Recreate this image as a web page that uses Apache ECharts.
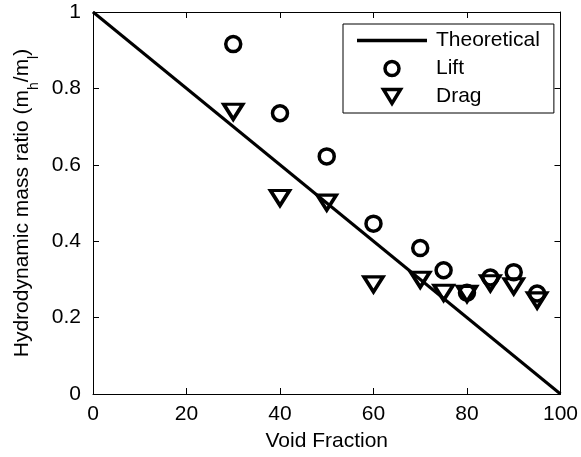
<!DOCTYPE html>
<html>
<head>
<meta charset="utf-8">
<script src="https://cdn.jsdelivr.net/npm/echarts@6/dist/echarts.min.js"></script>
<style>
html,body{margin:0;padding:0;background:#fff;}
#chart{width:581px;height:457px;}
</style>
</head>
<body>
<div id="chart"></div>
<script>
var voidFraction = [30, 40, 50, 60, 70, 75, 80, 85, 90, 95];
var liftRatio = [0.916, 0.735, 0.622, 0.446, 0.382, 0.324, 0.265, 0.305, 0.319, 0.263];
var dragRatio = [0.739, 0.513, 0.501, 0.287, 0.299, 0.265, 0.262, 0.290, 0.282, 0.245];
var theoreticalX = [0, 100];
var theoreticalY = [1, 0];

var FONT = 'Liberation Sans, Arial, sans-serif';
var FS = 21;
function pairs(xs, ys) { return xs.map(function (x, i) { return [x, ys[i]]; }); }

var chart = echarts.init(document.getElementById('chart'), null, {renderer: 'canvas'});
var axisCommon = {
  axisLine: {show: true, onZero: false, lineStyle: {color: '#000', width: 1}},
  axisTick: {show: true, inside: true, length: 6, lineStyle: {color: '#000', width: 1}},
  splitLine: {show: false}
};
var hollow = {color: 'rgba(0,0,0,0)', borderColor: '#000', borderWidth: 3.5, opacity: 1};
chart.setOption({
  animation: false,
  backgroundColor: '#fff',
  textStyle: {fontFamily: FONT},
  grid: {left: 93, right: 18, top: 12, bottom: 62.5},
  legend: {
    left: 343, top: 24,
    orient: 'vertical',
    backgroundColor: '#fff',
    borderColor: '#000', borderWidth: 1,
    padding: [6, 14, 6, 14],
    itemWidth: 70, itemHeight: 14, itemGap: 7,
    symbolKeepAspect: true,
    textStyle: {fontFamily: FONT, fontSize: FS, color: '#000', padding: [0, 0, 0, 4]},
    data: [
      {name: 'Theoretical', icon: 'path://M0,0L70,0L70,3.5L0,3.5Z',
       itemStyle: {color: '#000', borderWidth: 0}},
      {name: 'Lift', icon: 'circle', itemStyle: {color: 'rgba(0,0,0,0)', borderColor: '#000', borderWidth: 3.5}},
      {name: 'Drag', icon: 'path://M0,0L17,0L8.5,14Z', itemStyle: {color: 'rgba(0,0,0,0)', borderColor: '#000', borderWidth: 3.5}}
    ]
  },
  xAxis: [
    Object.assign({
      type: 'value', min: 0, max: 100, interval: 20, position: 'bottom',
      name: 'Void Fraction', nameLocation: 'middle', nameGap: 37,
      nameTextStyle: {fontFamily: FONT, fontSize: FS, color: '#000'},
      axisLabel: {fontFamily: FONT, fontSize: FS, color: '#000', margin: 10}
    }, axisCommon),
    Object.assign({
      type: 'value', min: 0, max: 100, interval: 20, position: 'top',
      axisLabel: {show: false}
    }, axisCommon)
  ],
  yAxis: [
    Object.assign({
      type: 'value', min: 0, max: 1, interval: 0.2, position: 'left',
      name: 'Hydrodynamic mass ratio (m{sub|h}/m{sub|l})',
      nameLocation: 'middle', nameGap: 58,
      nameTextStyle: {fontFamily: FONT, fontSize: FS, color: '#000',
        rich: {sub: {fontFamily: FONT, fontSize: 14, color: '#000', verticalAlign: 'bottom', padding: [0, 0, -8, 0]}}},
      axisLabel: {fontFamily: FONT, fontSize: FS, color: '#000', margin: 12}
    }, axisCommon),
    Object.assign({
      type: 'value', min: 0, max: 1, interval: 0.2, position: 'right',
      axisLabel: {show: false}
    }, axisCommon)
  ],
  series: [
    {
      name: 'Theoretical', type: 'line',
      data: pairs(theoreticalX, theoreticalY),
      symbol: 'none',
      lineStyle: {color: '#000', width: 3},
      itemStyle: {color: '#000'},
      z: 3
    },
    {
      name: 'Lift', type: 'scatter',
      data: pairs(voidFraction, liftRatio),
      symbol: 'circle', symbolSize: 15,
      itemStyle: hollow,
      z: 4
    },
    {
      name: 'Drag', type: 'scatter',
      data: pairs(voidFraction, dragRatio),
      symbol: 'triangle', symbolSize: [19, 15], symbolRotate: 180,
      itemStyle: hollow,
      z: 4
    }
  ]
});
</script>
</body>
</html>
